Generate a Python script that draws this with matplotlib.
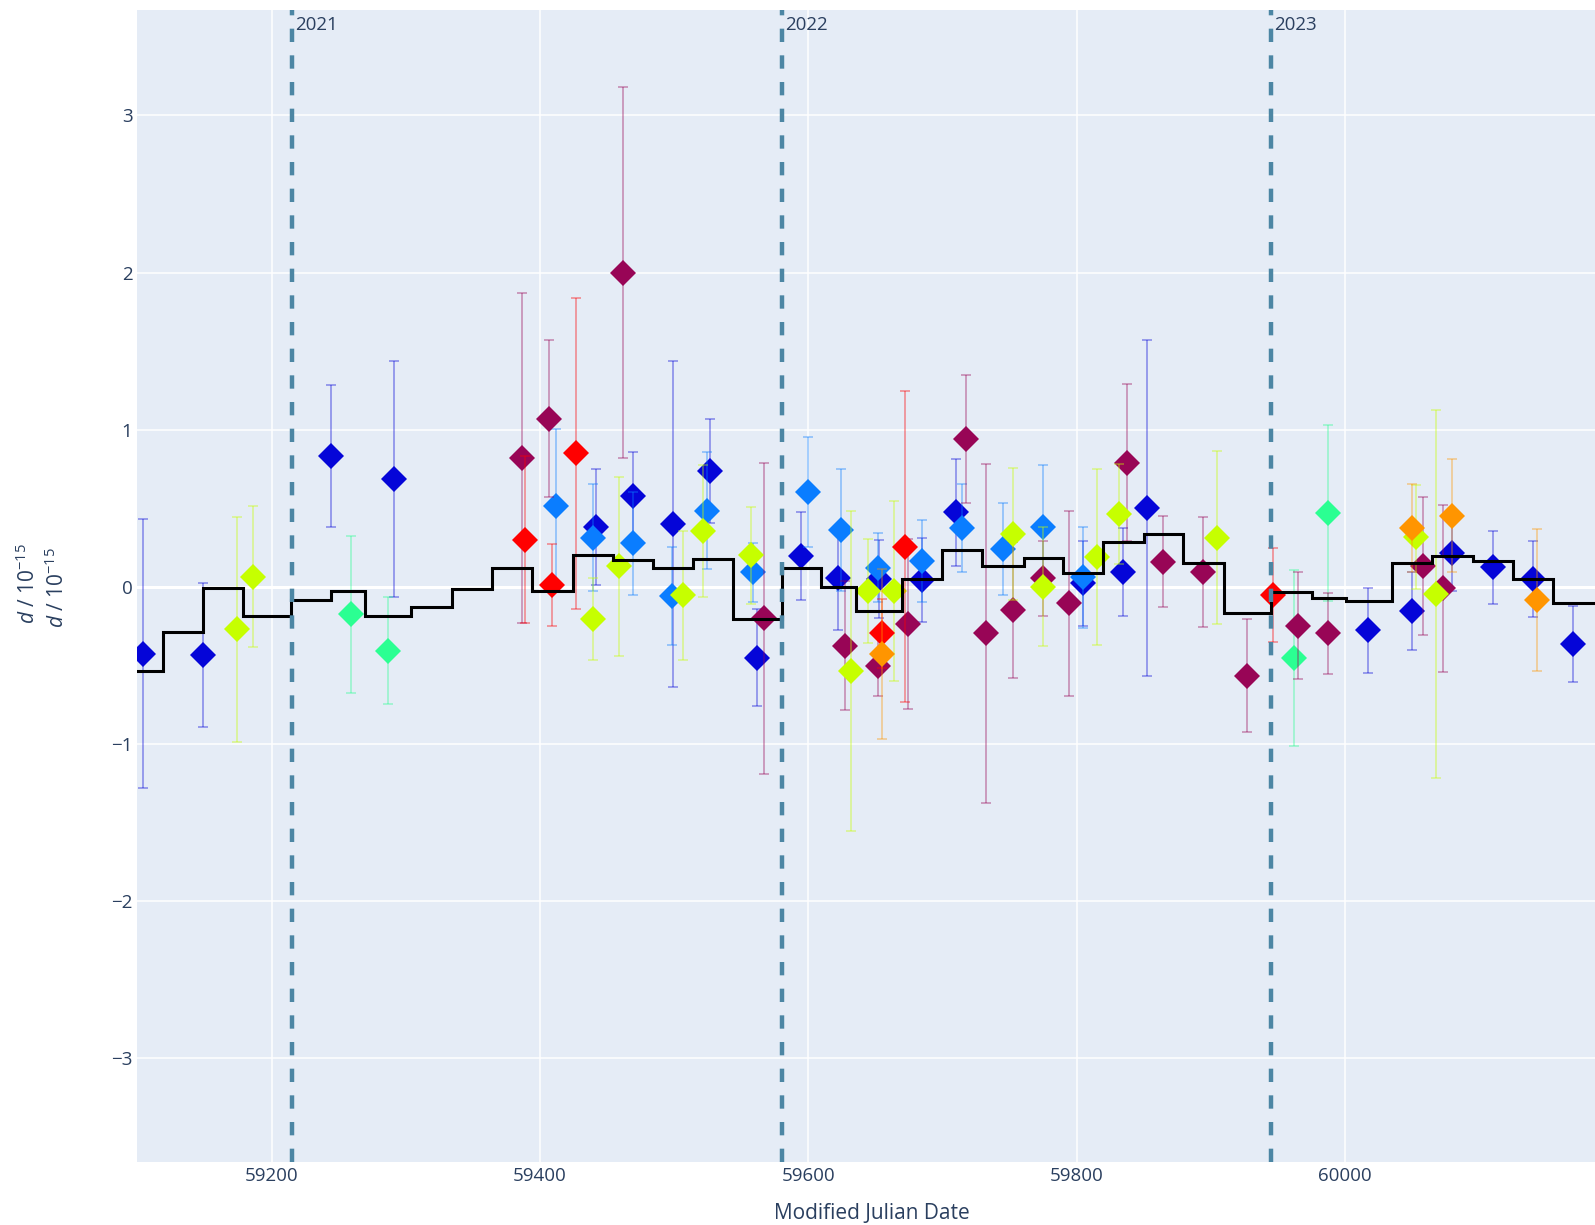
import matplotlib.pyplot as plt
from matplotlib.colors import to_rgba

# monthly mean, drawn as steps (left edges in MJD)
step_edges = [59099, 59118.8, 59148.6, 59178.8, 59214.4, 59244.2, 59269.5, 59303.8, 59334.2, 59364.4,
              59394.3, 59424.8, 59454.6, 59484.4, 59514.2, 59544, 59580, 59609.4, 59635.3, 59669.6,
              59699.4, 59729.2, 59761, 59790, 59819.8, 59850.2, 59879.4, 59910, 59944.6, 59975.1,
              60000.5, 60034.8, 60065, 60095.2, 60125.4, 60155.2, 60190]
step_vals = [-0.537, -0.287, -0.006, -0.187, -0.085, -0.025, -0.187, -0.131, -0.017, 0.12,
             -0.028, 0.203, 0.171, 0.118, 0.179, -0.205, 0.12, 0.0, -0.153, 0.047,
             0.234, 0.134, 0.185, 0.089, 0.283, 0.333, 0.153, -0.166, -0.036, -0.074,
             -0.091, 0.149, 0.196, 0.164, 0.047, -0.106]

# dark blue
blue_mjd = [59104, 59148.6, 59244, 59291.4, 59441.7, 59469.1, 59498.9, 59526.7, 59562, 59594.5,
            59621.8, 59652.9, 59684.9, 59709.8, 59804.9, 59834.7, 59852.2, 60017.3, 60050.1, 60080,
            60110, 60140.3, 60170.1]
blue_d = [-0.425, -0.435, 0.832, 0.684, 0.38, 0.58, 0.40, 0.736, -0.452, 0.196,
          0.053, 0.049, 0.043, 0.474, 0.021, 0.092, 0.503, -0.276, -0.153, 0.212,
          0.123, 0.049, -0.365]
blue_err = [0.855, 0.46, 0.45, 0.75, 0.37, 0.28, 1.04, 0.33, 0.31, 0.28,
            0.33, 0.25, 0.27, 0.34, 0.27, 0.28, 1.07, 0.27, 0.25, 0.24,
            0.23, 0.24, 0.24]

# light blue
lblue_mjd = [59411.9, 59439.7, 59469.1, 59498.1, 59524.2, 59559, 59599.5, 59624.3, 59651.7, 59684.4,
             59714.3, 59744.8, 59774.6, 59804.5]
lblue_d = [0.517, 0.313, 0.276, -0.06, 0.485, 0.091, 0.601, 0.361, 0.121, 0.164,
           0.372, 0.24, 0.382, 0.06]
lblue_err = [0.49, 0.34, 0.33, 0.31, 0.37, 0.19, 0.35, 0.39, 0.22, 0.26,
             0.28, 0.29, 0.39, 0.32]

# green
green_mjd = [59258.9, 59286.4, 59962.2, 59987.5]
green_d = [-0.176, -0.408, -0.456, 0.472]
green_err = [0.50, 0.34, 0.56, 0.56]

# maroon
maroon_mjd = [59386.3, 59406.7, 59462.1, 59567, 59627.3, 59652.1, 59674.5, 59717.3, 59732.2, 59752.3,
              59774.6, 59794.5, 59837.3, 59864.5, 59894.3, 59927.1, 59964.7, 59987.5, 60057.8, 60072.8]
maroon_d = [0.82, 1.069, 2.0, -0.2, -0.376, -0.505, -0.238, 0.94, -0.297, -0.148,
            0.053, -0.106, 0.79, 0.159, 0.092, -0.567, -0.248, -0.297, 0.132, -0.011]
maroon_err = [1.05, 0.50, 1.18, 0.99, 0.41, 0.19, 0.54, 0.41, 1.08, 0.43,
              0.24, 0.59, 0.50, 0.29, 0.35, 0.36, 0.34, 0.26, 0.44, 0.53]

# yellow-green
yg_mjd = [59173.9, 59186.3, 59439.2, 59459.1, 59506.3, 59521.7, 59557, 59631.8, 59644.7, 59664,
          59752.3, 59774.6, 59814.9, 59831.8, 59904.3, 60052.6, 60067.6]
yg_d = [-0.272, 0.064, -0.205, 0.13, -0.054, 0.355, 0.199, -0.535, -0.025, -0.027,
        0.333, 0.0, 0.191, 0.463, 0.312, 0.315, -0.047]
yg_err = [0.715, 0.45, 0.26, 0.57, 0.41, 0.42, 0.31, 1.02, 0.33, 0.57,
          0.42, 0.38, 0.56, 0.32, 0.55, 0.33, 1.17]

# red
red_mjd = [59388.8, 59408.7, 59426.6, 59654.6, 59672, 59946.5]
red_d = [0.30, 0.013, 0.849, -0.297, 0.255, -0.053]
red_err = [0.53, 0.26, 0.99, 0.22, 0.99, 0.30]

# orange
orange_mjd = [59654.6, 60050.1, 60080, 60142.8]
orange_d = [-0.429, 0.376, 0.452, -0.085]
orange_err = [0.54, 0.28, 0.36, 0.45]

year_labels = ['2021', '2022', '2023']
year_mjd = [59215, 59580, 59945]

xticks = [59200, 59400, 59600, 59800, 60000]
yticks = [-3, -2, -1, 0, 1, 2, 3]
ytick_labels = ['\u22123', '\u22122', '\u22121', '0', '1', '2', '3']

plt.rcParams['font.family'] = ['Open Sans', 'DejaVu Sans']
plt.rcParams['mathtext.fontset'] = 'custom'
plt.rcParams['mathtext.rm'] = 'Open Sans'
plt.rcParams['mathtext.it'] = 'Open Sans:italic'

txt = '#2a3f5f'
ylo, yhi = -3.66, 3.67

fig = plt.figure(figsize=(15.95, 12.25), dpi=100)
ax = fig.add_axes([0.0856, 0.0516, 0.9144, 0.9401])
ax.set_facecolor('#E5ECF6')
for s in ax.spines.values():
    s.set_visible(False)
ax.set_axisbelow(True)
ax.grid(color='white', lw=1.1)
ax.axhline(0, color='white', lw=2.2, zorder=1)

series = [
    (blue_mjd, blue_d, blue_err, '#0505D8'),
    (lblue_mjd, lblue_d, lblue_err, '#0A7DFF'),
    (green_mjd, green_d, green_err, '#2BFF92'),
    (maroon_mjd, maroon_d, maroon_err, '#980556'),
    (yg_mjd, yg_d, yg_err, '#C6FF00'),
    (red_mjd, red_d, red_err, '#FF0000'),
    (orange_mjd, orange_d, orange_err, '#FF9500'),
]
for i, (m, d, e, c) in enumerate(series):
    ax.errorbar(m, d, yerr=e, fmt='none', ecolor=to_rgba(c, 0.45),
                elinewidth=1.1, capsize=3.6, capthick=1.1, zorder=3 + 2 * i)
    ax.plot(m, d, 'D', ms=13.2, mew=0, color=c, zorder=4 + 2 * i)

ax.stairs(step_vals, step_edges, baseline=None, color='black', lw=2.2, zorder=20)

for m, lab in zip(year_mjd, year_labels):
    ax.plot([m, m], [ylo, yhi], color='#4C86A4', lw=3.2, linestyle=(0, (3, 3)), zorder=21)
    ax.text(m + 2.5, 3.576, lab, ha='left', va='center', fontsize=13.5, color=txt)

ax.set_xlim(59099.2, 60186.3)
ax.set_ylim(ylo, yhi)
ax.set_xticks(xticks)
ax.set_xticklabels([str(t) for t in xticks])
ax.set_yticks(yticks)
ax.set_yticklabels(ytick_labels)
ax.tick_params(axis='both', length=0, labelcolor=txt, labelsize=13.5)
ax.tick_params(axis='x', pad=4)
ax.tick_params(axis='y', pad=3)

ylab = r'$d$ / 10$^{-15}$'
fig.text(28 / 1595, 1 - 584 / 1225, ylab, rotation=90, ha='center', va='center', fontsize=15, color=txt)
fig.text(57 / 1595, 1 - 588 / 1225, ylab, rotation=90, ha='center', va='center', fontsize=15, color=txt)
fig.text(872 / 1595, 0.005, 'Modified Julian Date', ha='center', va='baseline', fontsize=15, color=txt)

fig.savefig('out.png', dpi=100)
